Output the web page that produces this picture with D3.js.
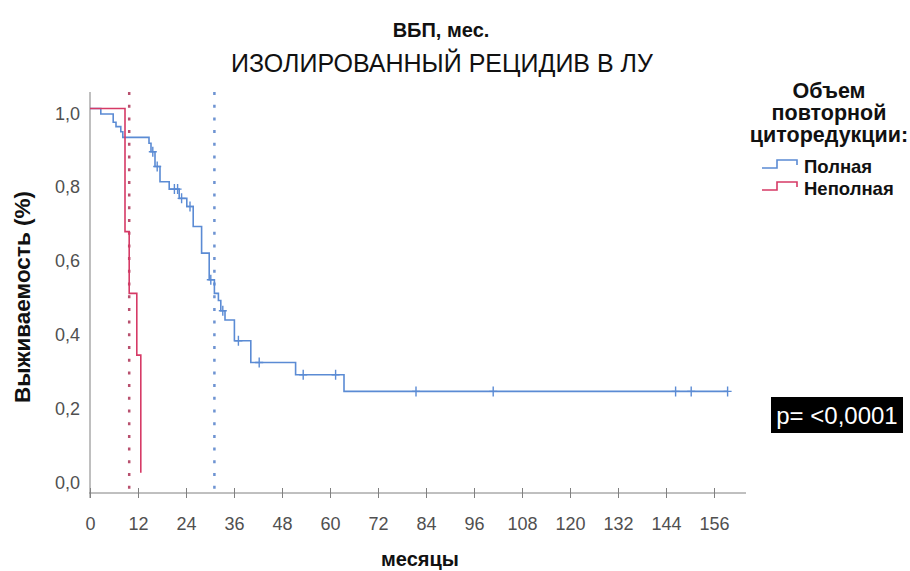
<!DOCTYPE html>
<html><head><meta charset="utf-8">
<script src="https://cdn.jsdelivr.net/npm/d3@7"></script>
<style>
body{margin:0;background:#fff;}
svg{display:block;font-family:"Liberation Sans",Arial,sans-serif;}
</style></head>
<body><svg id="c" width="910" height="571"></svg>
<script>
// ---- data ----
const xTicks = [0,12,24,36,48,60,72,84,96,108,120,132,144,156];
const yTicks = [0,0.2,0.4,0.6,0.8,1.0];
const groupNames = ["Полная","Неполная"];
const fullTimes = [0,2.7,5.8,6.5,7.7,8.2,14.75,15.25,16.25,17.5,19.8,22.3,24.2,25.8,27.9,29.8,31.1,32.1,32.7,33.75,36.1,40.2,51.4,63.5];
const fullSurv  = [1,0.985,0.963,0.951,0.937,0.922,0.906,0.883,0.843,0.802,0.782,0.757,0.735,0.681,0.609,0.537,0.50,0.481,0.453,0.428,0.372,0.313,0.280,0.235];
const fullLastTime = 159.4;
const fullCensored = [15.7,16.8,21.1,21.9,22.9,25.0,30.2,33.2,37.1,42.3,53.3,61.4,81.5,100.8,146.4,150.3,159.4];
const partTimes = [0,8.75,9.8,11.7,12.7];
const partSurv  = [1,0.667,0.5,0.333,0.015];
const medians = [31.1, 9.8]; // Полная, Неполная
const pText = "p= <0,0001";

// ---- drawing ----
(function(){
const svg = d3.select("#c");
const colors = ["#5b8bd4","#d63a66"];
const medColors = ["#6d93d2","#b8506e"];
const x = d3.scaleLinear().domain([0,164]).range([90,746]);
const y = d3.scaleLinear().domain([0,1]).range([478.3,108.5]);
const axisY = 493, plotTop = 92;

// titles
svg.append("text").attr("x",441).attr("y",37).attr("text-anchor","middle")
  .attr("font-size",20).attr("font-weight","bold").attr("fill","#111").text("ВБП, мес.");
svg.append("text").attr("x",442).attr("y",72).attr("text-anchor","middle")
  .attr("font-size",25).attr("fill","#111").text("ИЗОЛИРОВАННЫЙ РЕЦИДИВ В ЛУ");

// axes
const gx = svg.append("g").attr("transform",`translate(0,${axisY})`)
  .call(d3.axisBottom(x).tickValues(xTicks).tickSize(5).tickSizeOuter(0));
gx.select(".domain").attr("stroke","#808080").attr("d",`M89,0H746`);
gx.selectAll(".tick line").attr("stroke","#808080").attr("y1",-5).attr("y2",5);
gx.selectAll(".tick text").attr("font-size",18).attr("fill","#505050")
  .attr("font-family","Liberation Sans, Arial, sans-serif").attr("dy",0).attr("y",37);

const gy = svg.append("g").attr("transform",`translate(90,0)`)
  .call(d3.axisLeft(y).tickValues(yTicks).tickSize(0).tickFormat(d=>d3.format(".1f")(d).replace(".",",")));
gy.select(".domain").attr("stroke","#808080").attr("d",`M0,${plotTop}V498`);
gy.selectAll(".tick text").attr("font-size",18).attr("fill","#505050")
  .attr("font-family","Liberation Sans, Arial, sans-serif").attr("x",-10).attr("dy",0).attr("y",10.5);

svg.append("text").attr("transform","translate(30,297) rotate(-90)").attr("text-anchor","middle")
  .attr("font-size",22.5).attr("font-weight","bold").attr("fill","#111").text("Выживаемость (%)");
svg.append("text").attr("x",420).attr("y",566).attr("text-anchor","middle")
  .attr("font-size",20).attr("font-weight","bold").attr("fill","#111").text("месяцы");

// median lines
medians.forEach((m,i)=>{
  svg.append("line").attr("x1",x(m)).attr("x2",x(m)).attr("y1",plotTop).attr("y2",axisY)
    .attr("stroke",medColors[i]).attr("stroke-width",2.5).attr("stroke-dasharray","3,9.7");
});

// curves
const line = d3.line().x(d=>x(d[0])).y(d=>y(d[1])).curve(d3.curveStepAfter);
const fullPts = fullTimes.map((t,i)=>[t,fullSurv[i]]).concat([[fullLastTime, fullSurv[fullSurv.length-1]]]);
const partPts = partTimes.map((t,i)=>[t,partSurv[i]]);
svg.append("path").attr("d",line(fullPts)).attr("fill","none").attr("stroke",colors[0]).attr("stroke-width",1.6);
svg.append("path").attr("d",line(partPts)).attr("fill","none").attr("stroke",colors[1]).attr("stroke-width",1.6);

function survAt(t){ let s=1; fullTimes.forEach((tt,i)=>{ if(tt<=t) s=fullSurv[i]; }); return s; }
fullCensored.forEach(t=>{
  const cx=x(t), cy=y(survAt(t));
  svg.append("path").attr("d",`M${cx-4},${cy}H${cx+4}M${cx},${cy-5}V${cy+5}`)
    .attr("stroke",colors[0]).attr("stroke-width",1.4).attr("fill","none");
});

// legend
const lg = svg.append("g");
["Объем","повторной","циторедукции:"].forEach((t,i)=>{
  lg.append("text").attr("x",829).attr("y",[98,120,142][i]).attr("text-anchor","middle")
    .attr("font-size",21.5).attr("font-weight","bold").attr("fill","#111").text(t);
});
groupNames.forEach((g,i)=>{
  const yy = 160 + i*22;
  lg.append("path").attr("d",`M762,${yy+8}H777V${yy}H797V${yy+5}`)
    .attr("fill","none").attr("stroke",colors[i]).attr("stroke-width",1.6);
  lg.append("text").attr("x",804).attr("y",yy+13).attr("font-size",18.5).attr("font-weight","bold")
    .attr("fill","#111").text(g);
});

// p-value box
svg.append("rect").attr("x",771).attr("y",397).attr("width",132).attr("height",36).attr("fill","#000");
svg.append("text").attr("x",837).attr("y",424).attr("text-anchor","middle").attr("font-size",24)
  .attr("fill","#fff").text(pText);
})();
</script></body></html>
